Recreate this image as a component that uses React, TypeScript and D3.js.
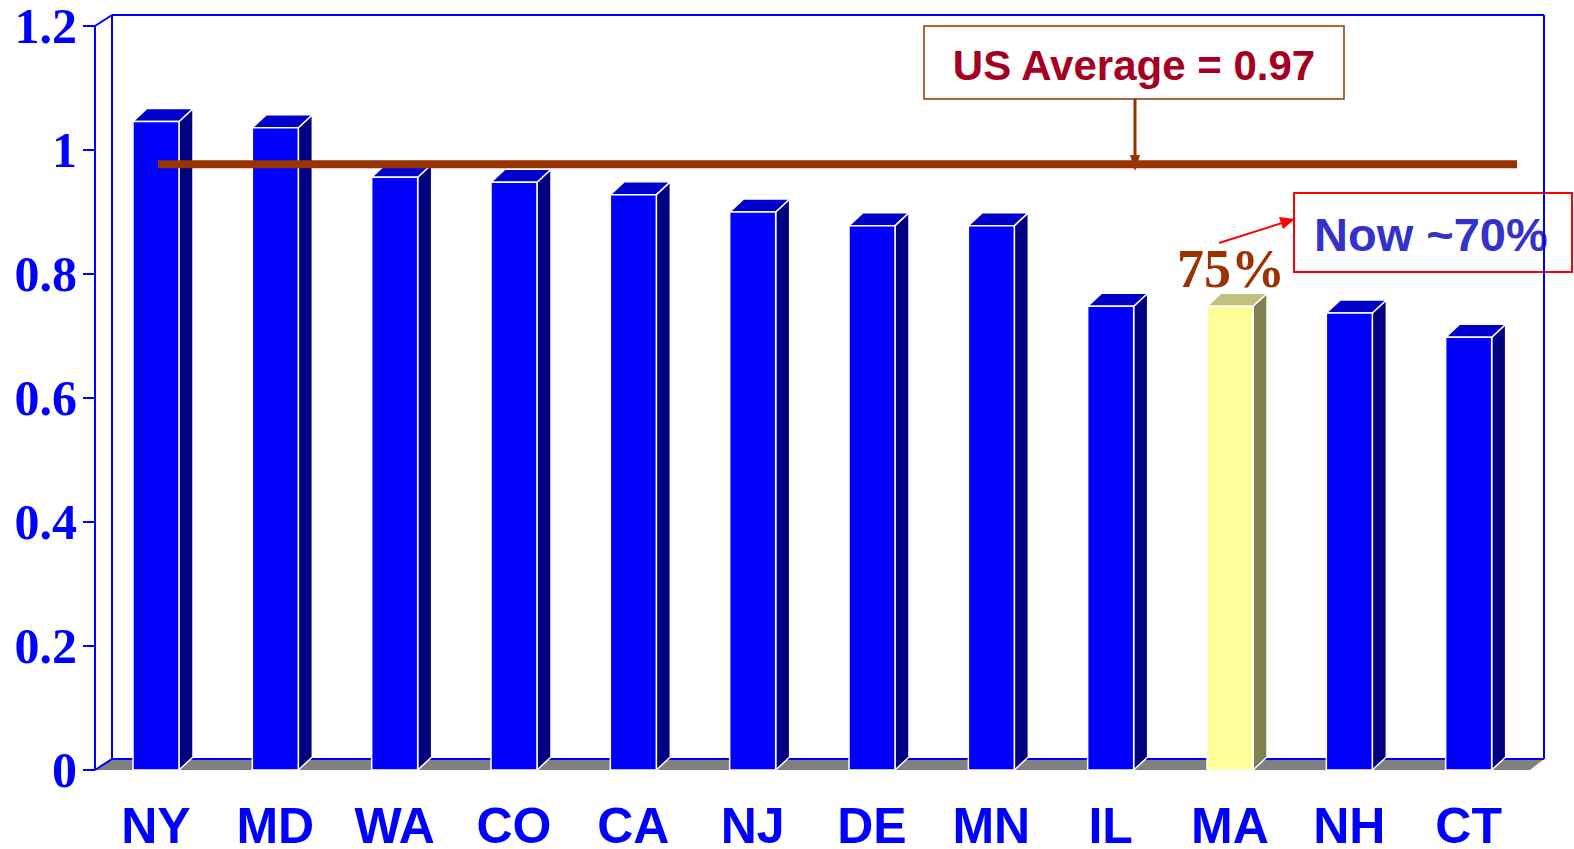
import React from "react";
import * as d3 from "d3";

const categories = ["NY", "MD", "WA", "CO", "CA", "NJ", "DE", "MN", "IL", "MA", "NH", "CT"];
const values = [1.046, 1.036, 0.956, 0.948, 0.928, 0.9, 0.878, 0.878, 0.748, 0.748, 0.737, 0.698];
const highlighted = ["MA"];
const yTicks = [0, 0.2, 0.4, 0.6, 0.8, 1, 1.2];
const usAverageLine = 0.977;
const usAverageLabel = "US Average = 0.97";
const nowLabel = "Now ~70%";
const maLabel = "75%";

const W = 1574;
const H = 849;
const DX = 17; // wall depth
const DY = -11;
const BDX = 14; // bar depth
const BDY = -13;

export default function App() {
  const x = d3.scaleBand<string>().domain(categories).range([95, 1527]).paddingInner(0).paddingOuter(0);
  const y = d3.scaleLinear().domain([0, 1.2]).range([770, 26]);
  const bw = 46;
  const barOffset = 38;
  const y0 = y(0);
  const yTop = y(1.2);
  const xl = 95;
  const xr = 1530;

  const pts = (p: number[][]) => p.map((q) => q.join(",")).join(" ");

  return (
    <svg width={W} height={H} style={{ position: "absolute", left: 0, top: 0, display: "block", background: "#fff" }}>
      {/* floor */}
      <polygon points={pts([[xl, y0], [xl + DX, y0 + DY], [xr + DX - 3, y0 + DY], [xr, y0]])} fill="#808080" />
      {/* back wall */}
      <g stroke="#0000FF" strokeWidth={2} fill="none">
        <line x1={xl + DX} y1={yTop + DY} x2={xr + DX - 3} y2={yTop + DY} />
        <line x1={xl + DX} y1={yTop + DY} x2={xl + DX} y2={y0 + DY} />
        <line x1={xl + DX} y1={y0 + DY} x2={xr + DX - 3} y2={y0 + DY} />
        <line x1={xl} y1={yTop} x2={xl + DX} y2={yTop + DY} />
        <line x1={xl} y1={y0} x2={xl + DX} y2={y0 + DY} />
        <line x1={xl} y1={yTop} x2={xl} y2={y0} />
      </g>
      {/* ticks */}
      {yTicks.map((t) => (
        <g key={t}>
          <line x1={83} x2={xl} y1={y(t)} y2={y(t)} stroke="#0000FF" strokeWidth={2} />
          <text
            x={77}
            y={y(t) + 17}
            textAnchor="end"
            fontFamily="'Liberation Serif', 'Times New Roman', serif"
            fontWeight="bold"
            fontSize={50}
            fill="#0000FF"
          >
            {d3.format("~g")(t)}
          </text>
        </g>
      ))}
      {/* bars */}
      {categories.map((c, i) => {
        const v = values[i];
        const bx = (x(c) as number) + barOffset;
        const yv = y(v);
        const hl = highlighted.includes(c);
        const front = hl ? "#FFFF99" : "#0000FF";
        const side = hl ? "#808050" : "#000080";
        const top = hl ? "#C0C080" : "#0000CC";
        return (
          <g key={c} stroke="#fff" strokeWidth={1.5} strokeLinejoin="round">
            <polygon points={pts([[bx + bw, yv], [bx + bw + BDX, yv + BDY], [bx + bw + BDX, y0 + BDY], [bx + bw, y0]])} fill={side} />
            <polygon points={pts([[bx, yv], [bx + BDX, yv + BDY], [bx + bw + BDX, yv + BDY], [bx + bw, yv]])} fill={top} />
            <rect x={bx} y={yv} width={bw} height={y0 - yv} fill={front} />
          </g>
        );
      })}
      {/* category labels */}
      {categories.map((c) => (
        <text
          key={c}
          x={(x(c) as number) + barOffset + bw / 2}
          y={843}
          textAnchor="middle"
          fontFamily="'Liberation Sans', Arial, sans-serif"
          fontWeight="bold"
          fontSize={50}
          fill="#0000FF"
        >
          {c}
        </text>
      ))}
      {/* US average line */}
      <line x1={158} x2={1517} y1={y(usAverageLine)} y2={y(usAverageLine)} stroke="#993300" strokeWidth={8} />
      {/* US average annotation */}
      <rect x={924} y={26} width={420} height={73} fill="#fff" stroke="#993300" strokeWidth={1.5} />
      <text
        x={1134}
        y={80}
        textAnchor="middle"
        fontFamily="'Liberation Sans', Arial, sans-serif"
        fontWeight="bold"
        fontSize={42}
        fill="#A50021"
      >
        {usAverageLabel}
      </text>
      <line x1={1135} x2={1135} y1={99} y2={156} stroke="#993300" strokeWidth={3} />
      <polygon points={pts([[1130, 155], [1140, 155], [1135, y(usAverageLine) + 7]])} fill="#993300" />
      {/* MA label */}
      <text
        x={1177}
        y={287}
        fontFamily="'Liberation Serif', 'Times New Roman', serif"
        fontWeight="bold"
        fontSize={54}
        fill="#993300"
      >
        {maLabel}
      </text>
      {/* Now annotation */}
      <rect x={1294} y={193} width={278} height={79} fill="#fff" stroke="#FF0000" strokeWidth={2} />
      <text
        x={1314}
        y={251}
        fontFamily="'Liberation Sans', Arial, sans-serif"
        fontWeight="bold"
        fontSize={47}
        fill="#3333CC"
      >
        {nowLabel}
      </text>
      <line x1={1219} y1={243} x2={1282} y2={223} stroke="#FF0000" strokeWidth={2} />
      <polygon points={pts([[1295, 219], [1279, 217], [1283, 229]])} fill="#FF0000" />
      {/* right wall edge drawn over annotation */}
      <line x1={xr + DX - 3} y1={yTop + DY} x2={xr + DX - 3} y2={y0 + DY} stroke="#0000FF" strokeWidth={2} />
    </svg>
  );
}
